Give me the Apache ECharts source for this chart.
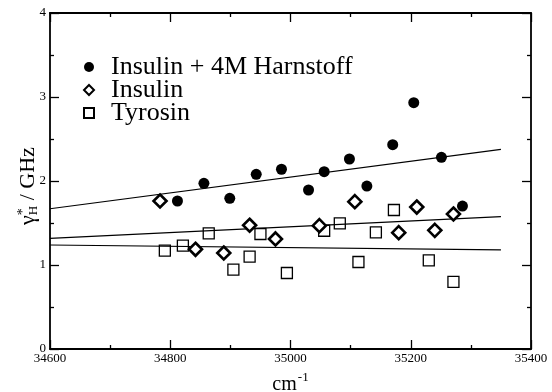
<!DOCTYPE html>
<html><head><meta charset="utf-8">
<script src="https://cdn.jsdelivr.net/npm/echarts@6/dist/echarts.min.js"></script>
<style>html,body{margin:0;padding:0;background:#fff}#c{width:552px;height:392px}</style>
</head><body><div id="c"></div>
<script>
const xTicks = [34600, 34800, 35000, 35200, 35400];
const yTicks = [0, 1, 2, 3, 4];
const harnX = [34812, 34856, 34899, 34943, 34985, 35030, 35056, 35098, 35127, 35170, 35205, 35251, 35286];
const harnY = [1.762, 1.973, 1.794, 2.080, 2.140, 1.893, 2.111, 2.262, 1.940, 2.432, 2.932, 2.282, 1.702];
const insX = [34783, 34842, 34889, 34932, 34975, 35048, 35107, 35180, 35210, 35240, 35271];
const insY = [1.762, 1.187, 1.143, 1.473, 1.310, 1.468, 1.754, 1.385, 1.690, 1.413, 1.607];
const tyrX = [34791, 34821, 34864, 34905, 34932, 34950, 34994, 35056, 35082, 35113, 35142, 35172, 35230, 35271];
const tyrY = [1.170, 1.230, 1.377, 0.944, 1.099, 1.369, 0.905, 1.408, 1.496, 1.036, 1.389, 1.655, 1.056, 0.798];
const fitX = [34600, 35350];
const fitHarnY = [1.670, 2.377];
const fitInsY = [1.318, 1.575];
const fitTyrY = [1.238, 1.179];
const names = ['Insulin + 4M Harnstoff', 'Insulin', 'Tyrosin'];

const zip = (a, b) => a.map((v, i) => [v, b[i]]);
const serif = 'Liberation Serif';
const chart = echarts.init(document.getElementById('c'), null, {renderer: 'canvas'});
const tickStyle = {show: true, inside: true, length: 9, lineStyle: {color: '#000', width: 1.3}};
const minorStyle = {show: true, splitNumber: 2, length: 4, lineStyle: {color: '#000', width: 1.3}};
const lineStyleAx = {show: true, onZero: false, lineStyle: {color: '#000', width: 1.8}};
const fitSeries = (ys) => ({
  type: 'line', data: zip(fitX, ys), symbol: 'none', silent: true,
  lineStyle: {color: '#000', width: 1.2}, legendHoverLink: false, z: 1
});
chart.setOption({
  animation: false,
  grid: {left: 50, right: 21, top: 13, bottom: 43, containLabel: false, outerBoundsMode: 'none'},
  legend: {
    orient: 'vertical', left: 78, top: 49, itemGap: -3, itemWidth: 10, itemHeight: 10,
    data: names, selectedMode: false,
    textStyle: {fontFamily: serif, fontSize: 26, color: '#000', padding: [0, 0, 0, 12]}
  },
  xAxis: [{
    type: 'value', min: 34600, max: 35400, interval: 200, position: 'bottom',
    axisLine: lineStyleAx, axisTick: tickStyle, minorTick: minorStyle, splitLine: {show: false},
    axisLabel: {fontFamily: serif, fontSize: 13, color: '#000', margin: 3,
      formatter: v => xTicks.includes(v) ? String(v) : ''},
    name: '{a|cm}{b|-1}', nameLocation: 'middle', nameGap: 22, nameMoveOverlap: false,
    nameTextStyle: {rich: {
      a: {fontFamily: serif, fontSize: 20, color: '#000', verticalAlign: 'bottom', lineHeight: 24},
      b: {fontFamily: serif, fontSize: 13, color: '#000', verticalAlign: 'top', lineHeight: 24, padding: [0, 0, 14, 1]}
    }}
  }, {
    type: 'value', min: 34600, max: 35400, interval: 200, position: 'top',
    axisLine: lineStyleAx, axisTick: tickStyle, minorTick: minorStyle, splitLine: {show: false},
    axisLabel: {show: false}
  }],
  yAxis: [{
    type: 'value', min: 0, max: 4, interval: 1, position: 'left',
    axisLine: lineStyleAx, axisTick: tickStyle, minorTick: minorStyle, splitLine: {show: false},
    axisLabel: {fontFamily: serif, fontSize: 13, color: '#000', margin: 4,
      formatter: v => yTicks.includes(v) ? String(v) : ''},
    name: '{g|γ}{s|*}{h|H}{n| / GHz}', nameLocation: 'middle', nameGap: 10, nameRotate: 90,
    nameMoveOverlap: false,
    nameTextStyle: {padding: [0, 10, 0, 0], rich: {
      g: {fontFamily: serif, fontSize: 22, color: '#000'},
      s: {fontFamily: serif, fontSize: 14, color: '#000', verticalAlign: 'top', padding: [0, 0, 10, 0]},
      h: {fontFamily: serif, fontSize: 13, color: '#000', verticalAlign: 'bottom', padding: [10, 0, 0, -7]},
      n: {fontFamily: serif, fontSize: 22, color: '#000'}
    }}
  }, {
    type: 'value', min: 0, max: 4, interval: 1, position: 'right',
    axisLine: lineStyleAx, axisTick: tickStyle, minorTick: minorStyle, splitLine: {show: false},
    axisLabel: {show: false}
  }],
  series: [
    fitSeries(fitHarnY), fitSeries(fitInsY), fitSeries(fitTyrY),
    {name: names[0], type: 'scatter', symbol: 'circle', symbolSize: 11, data: zip(harnX, harnY),
      itemStyle: {color: '#000', borderWidth: 0, opacity: 1}, z: 3},
    {name: names[1], type: 'scatter', symbol: 'diamond', symbolSize: 13, data: zip(insX, insY),
      itemStyle: {color: '#fff', borderColor: '#000', borderWidth: 2.6, opacity: 1}, z: 4},
    {name: names[2], type: 'scatter', symbol: 'rect', symbolSize: 11, data: zip(tyrX, tyrY),
      itemStyle: {color: 'rgba(255,255,255,0)', borderColor: '#000', borderWidth: 1.3, opacity: 1}, z: 2}
  ]
});
</script></body></html>
